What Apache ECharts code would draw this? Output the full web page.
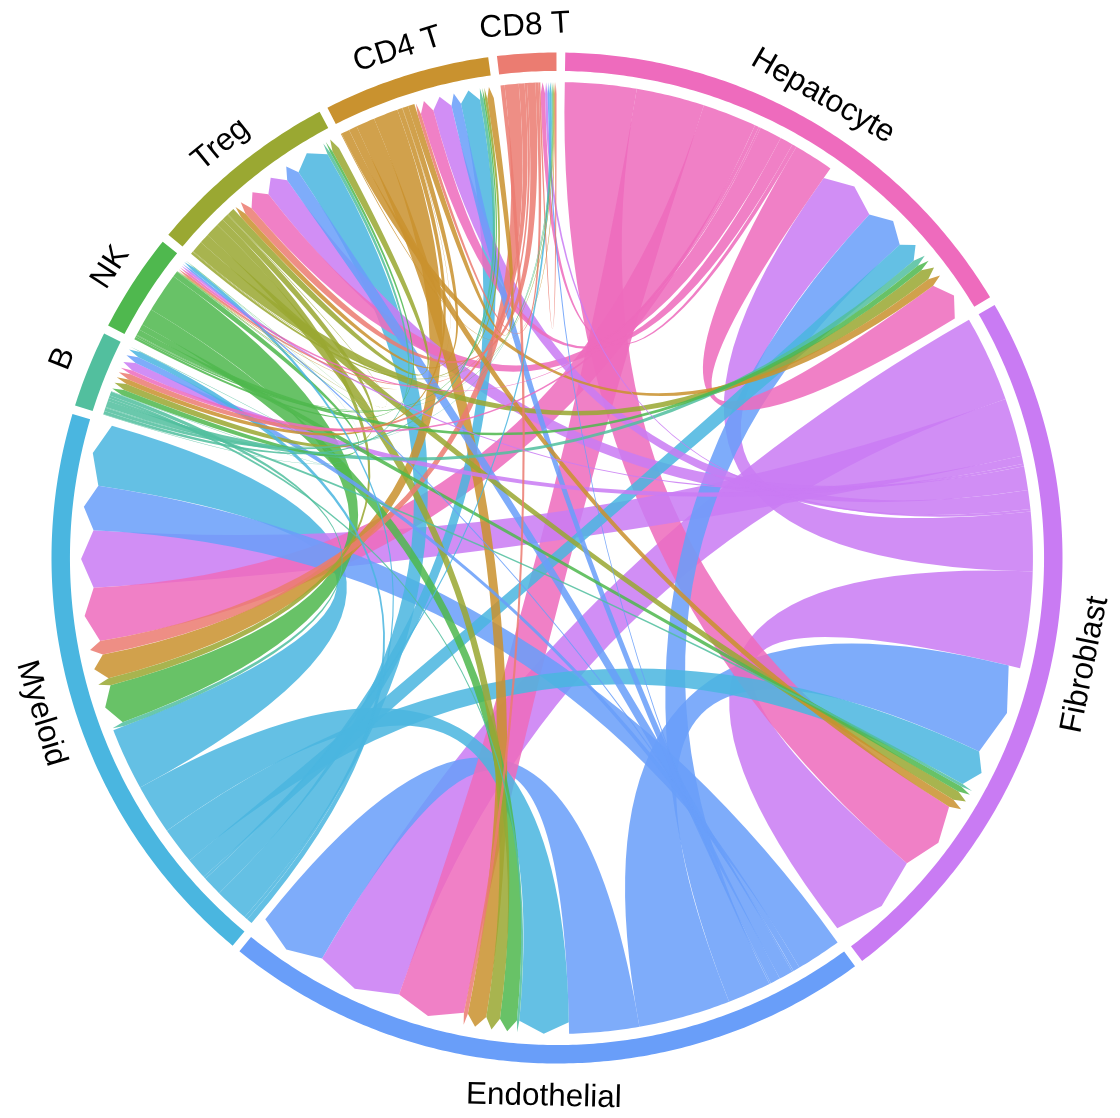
<!DOCTYPE html>
<html>
<head>
<meta charset="utf-8">
<style>html,body{margin:0;padding:0;background:#fff}#chart{width:1120px;height:1118px}</style>
<script src="https://cdn.jsdelivr.net/npm/echarts@6/dist/echarts.min.js"></script>
</head>
<body>
<div id="chart"></div>
<script>
// cell groups, in clockwise order from 12 o'clock
const categories = ['Hepatocyte','Fibroblast','Endothelial','Myeloid','B','NK','Treg','CD4 T','CD8 T'];
const colors = ['#EE6BBD','#C97BF3','#699EF9','#4AB6E0','#52BF9E','#4FB84E','#9AA832','#C9922F','#EB7C71'];
// outgoing interaction strength, each list follows the order of `categories`
const fromHepatocyte  = [4.85, 8.7, 8.3, 6.6, 0.5, 0.25, 2.7, 1.6, 0.55];
const fromFibroblast  = [7.2, 11.75, 10.5, 7.1, 1.0, 0.3, 2.9, 2.3, 0.3];
const fromEndothelial = [5.3, 11.2, 8.5, 5.5, 0.8, 0.2, 1.7, 1.2, 0.2];
const fromMyeloid     = [2.6, 4.5, 6.1, 7.6, 0.7, 0.4, 4.2, 2.4, 0.3];
const fromB           = [0.8, 0.35, 0.3, 0.5, 0.05, 0.05, 0.4, 0.4, 0.1];
const fromNK          = [0.7, 0.7, 2.1, 4.8, 0.7, 0.05, 0.3, 0.2, 0.1];
const fromTreg        = [1.4, 1.2, 1.7, 0.9, 0.8, 0.1, 0.9, 0.3, 0.1];
const fromCD4         = [1.0, 1.0, 2.3, 3.0, 0.6, 0.05, 0.7, 0.8, 0.1];
const fromCD8         = [0, 0, 0.5, 1.7, 0.7, 0.3, 1.0, 0.4, 0.2];
const matrix = [fromHepatocyte, fromFibroblast, fromEndothelial, fromMyeloid, fromB, fromNK, fromTreg, fromCD4, fromCD8];

const n = categories.length, GAP = 1;
const total = matrix.flat().reduce((a,b)=>a+b,0);
const perUnit = (360 - GAP*n) / (2*total);
const sectors = [], links = {};
let cur = 0;
for (let i=0;i<n;i++){
  const start = cur;
  for (let k=1;k<=n;k++){ const j=(i+k)%n, v=matrix[i][j];
    if(v>0){ const key=i+'_'+j; links[key]=links[key]||{s:i,t:j,v}; links[key].a1=cur; cur+=v*perUnit; links[key].a2=cur; } }
  for (let k=1;k<=n;k++){ const j=(i+k)%n, v=matrix[j][i];
    if(v>0){ const key=j+'_'+i; links[key]=links[key]||{s:j,t:i,v}; links[key].b1=cur; cur+=v*perUnit; links[key].b2=cur; } }
  sectors.push({start,end:cur}); cur+=GAP;
}
const linkList = Object.values(links).sort((x,y)=>y.v-x.v);
const R_RING_OUT=1, R_RING_IN=0.9635, R_SRC=0.9415, R_SHOULDER=0.9185, R_LABEL=1.06, R_CTRL=0.022;

function arc(api,r,a,b){ const pts=[],st=Math.max(2,Math.ceil(Math.abs(b-a)/0.5));
  for(let i=0;i<=st;i++) pts.push(api.coord([r,a+(b-a)*i/st])); return pts; }
const fmt=p=>p[0].toFixed(2)+' '+p[1].toFixed(2);
// control point of an edge: just past the centre, opposite the bisector of the shorter arc
function ctrl(api,a,b){
  let d=Math.abs(a-b), mid=(a+b)/2;
  if(d>180){ d=360-d; mid+=180; }
  return api.coord([R_CTRL*Math.cos(d/2*Math.PI/180),(mid+180)%360]);
}

const chart = echarts.init(document.getElementById('chart'));
chart.setOption({
  animation:false,
  backgroundColor:'#fff',
  polar:{center:[557,558],radius:505.5},
  angleAxis:{type:'value',min:0,max:360,startAngle:89.06,clockwise:true,show:false},
  radiusAxis:{type:'value',min:0,max:1,show:false},
  series:[
   {type:'custom',coordinateSystem:'polar',silent:true,clip:false,z:1,
    encode:{radius:0,angle:1},
    data:linkList.map(l=>[R_SRC,(l.a1+l.a2)/2]),
    renderItem(p,api){ const l=linkList[p.dataIndex];
      const src=arc(api,R_SRC,l.a1,l.a2);
      const b1=api.coord([R_SHOULDER,l.b1]),b2=api.coord([R_SHOULDER,l.b2]),tip=api.coord([R_SRC,(l.b1+l.b2)/2]);
      let d='M'+src.map(fmt).join('L');
      d+='Q'+fmt(ctrl(api,l.a2,l.b1))+' '+fmt(b1)+'L'+fmt(tip)+'L'+fmt(b2)+'Q'+fmt(ctrl(api,l.b2,l.a1))+' '+fmt(src[0])+'Z';
      return {type:'path',shape:{pathData:d},style:{fill:colors[l.s],opacity:0.86}};
    }},
   {type:'custom',coordinateSystem:'polar',silent:true,clip:false,z:2,
    encode:{radius:0,angle:1},
    data:sectors.map(s=>[R_RING_OUT,(s.start+s.end)/2]),
    renderItem(p,api){ const s=sectors[p.dataIndex];
      const o=arc(api,R_RING_OUT,s.start,s.end),i=arc(api,R_RING_IN,s.end,s.start);
      return {type:'polygon',shape:{points:o.concat(i)},style:{fill:colors[p.dataIndex]}};
    }},
   {type:'custom',coordinateSystem:'polar',silent:true,clip:false,z:3,
    encode:{radius:0,angle:1},
    data:sectors.map(s=>[R_LABEL,(s.start+s.end)/2]),
    renderItem(p,api){ const s=sectors[p.dataIndex],mid=(s.start+s.end)/2+0.94;
      const pos=api.coord([R_LABEL,(s.start+s.end)/2]);
      let rot=mid; if(mid>90&&mid<270) rot=mid-180;
      return {type:'text',x:pos[0],y:pos[1],rotation:-rot*Math.PI/180,
        style:{text:categories[p.dataIndex],x:0,y:3,fill:'#000',font:'31.5px "Liberation Sans"',align:'center',verticalAlign:'middle'}};
    }}
  ]
});
</script>
</body>
</html>
